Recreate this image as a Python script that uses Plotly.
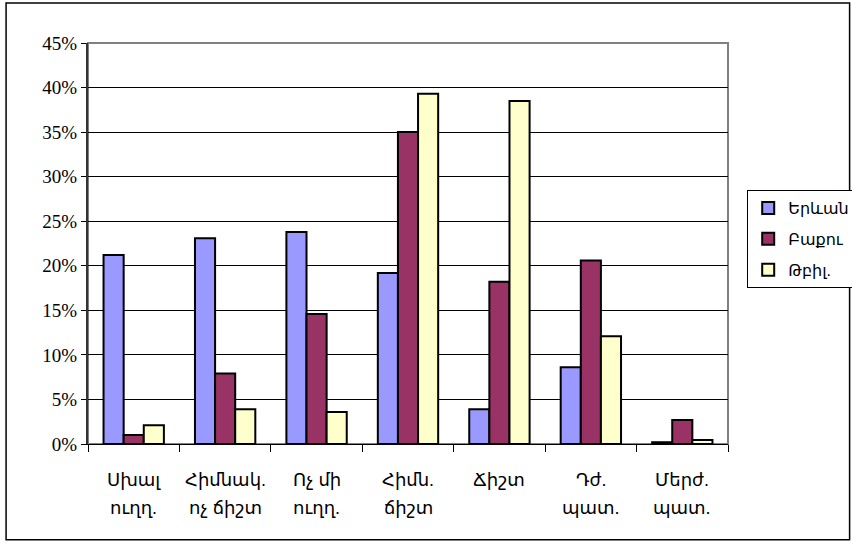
import plotly.graph_objects as go

categories = ["Սխալ<br>ուղղ.", "Հիմնակ.<br>ոչ ճիշտ", "Ոչ մի<br>ուղղ.", "Հիմն.<br>ճիշտ", "Ճիշտ", "Դժ.<br>պատ.", "Մերժ.<br>պատ."]
line1 = ["Սխալ", "Հիմնակ.", "Ոչ մի", "Հիմն.", "Ճիշտ", "Դժ.", "Մերժ."]
line2 = ["ուղղ.", "ոչ ճիշտ", "ուղղ.", "ճիշտ", "", "պատ.", "պատ."]
series_names = ["Երևան", "Բաքու", "Թբիլ."]
yerevan = [0.212, 0.231, 0.238, 0.192, 0.039, 0.086, 0.002]
baku = [0.010, 0.079, 0.146, 0.350, 0.182, 0.206, 0.027]
tbilisi = [0.021, 0.039, 0.036, 0.393, 0.385, 0.121, 0.0045]
colors = ["#9999FF", "#993366", "#FFFFCC"]
ytick_vals = [0, 0.05, 0.10, 0.15, 0.20, 0.25, 0.30, 0.35, 0.40, 0.45]
ytick_text = ["0%", "5%", "10%", "15%", "20%", "25%", "30%", "35%", "40%", "45%"]

sans = "Liberation Sans, DejaVu Sans, Arial, sans-serif"
serif = "Liberation Serif, Times New Roman, serif"

fig = go.Figure()
for i, (name, vals) in enumerate(zip(series_names, [yerevan, baku, tbilisi])):
    fig.add_trace(go.Bar(
        x=categories, y=vals, name=name, legendgroup=name,
        marker=dict(color=colors[i], line=dict(color="black", width=2)),
    ))

# plot area border (gray)
fig.add_shape(type="rect", xref="paper", yref="paper", x0=0, x1=1, y0=0, y1=1,
              line=dict(color="#808080", width=2), layer="below")
# outer chart border
fig.add_shape(type="rect", xref="paper", yref="paper", x0=-0.128, x1=1.19, y0=-0.239, y1=1.0998,
              line=dict(color="black", width=1.5))

for c, a, b in zip(categories, line1, line2):
    fig.add_annotation(x=c, y=-0.09, xref="x", yref="paper", text=a, showarrow=False,
                       font=dict(family=sans, size=18, color="black"), yanchor="middle")
    if b:
        fig.add_annotation(x=c, y=-0.16, xref="x", yref="paper", text=b, showarrow=False,
                           font=dict(family=sans, size=18, color="black"), yanchor="middle")

fig.update_layout(
    width=852, height=544,
    margin=dict(l=88, r=124, t=43, b=100, autoexpand=False),
    paper_bgcolor="white", plot_bgcolor="white",
    barmode="group", bargap=0.34, bargroupgap=0,
    showlegend=True,
    legend=dict(x=1.03, y=0.633, xanchor="left", yanchor="top",
                bordercolor="black", borderwidth=1, bgcolor="white",
                font=dict(family=sans, size=16, color="black"),
                traceorder="grouped", tracegroupgap=7, itemwidth=30),
    xaxis=dict(showticklabels=False, ticks="outside", ticklen=7, tickcolor="black",
               tickson="boundaries", showline=True, linecolor="black", linewidth=1,
               showgrid=False),
    yaxis=dict(range=[0, 0.45], tickvals=ytick_vals, ticktext=ytick_text,
               ticks="outside", ticklen=5, tickcolor="black",
               showline=True, linecolor="#333333", linewidth=2,
               showgrid=True, gridcolor="black", gridwidth=1, zeroline=False,
               tickfont=dict(family=serif, size=19, color="black")),
)

fig.write_html("out.html", config={"displayModeBar": False},
               post_script="document.body.style.margin='0';document.body.style.overflow='hidden';")
